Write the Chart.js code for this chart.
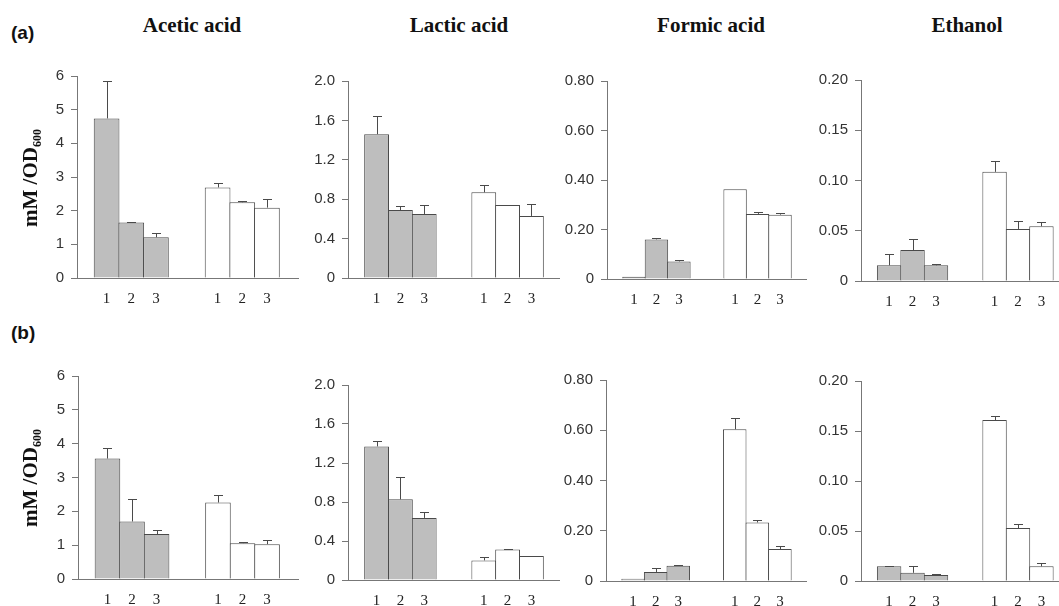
<!DOCTYPE html>
<html><head><meta charset="utf-8">
<script src="https://cdn.jsdelivr.net/npm/chart.js@4.4.1/dist/chart.umd.min.js"></script>
<style>
html,body{margin:0;padding:0;background:#fff;}
body{width:1059px;height:606px;position:relative;overflow:hidden;}
canvas{position:absolute;}
.title{position:absolute;font:bold 21px "Liberation Serif",serif;color:#111;transform:translate(-50%,-50%);white-space:nowrap;}
.panel{position:absolute;font:bold 19px "Liberation Sans",sans-serif;color:#111;transform:translateY(-50%);}
.ylab{position:absolute;font:bold 21px "Liberation Serif",serif;color:#111;white-space:nowrap;transform:translate(-50%,-50%) rotate(-90deg);}
.ylab sub{font-size:12px;vertical-align:-4px;}
</style></head><body>
<script>
// ---- data ----
const barLabels = ['1','2','3','1','2','3'];
const titles = ['Acetic acid','Lactic acid','Formic acid','Ethanol'];
const panelLabels = ['(a)','(b)'];

const acetTicks = ['0','1','2','3','4','5','6'];
const lactTicks = ['0','0.4','0.8','1.2','1.6','2.0'];
const formTicks = ['0','0.20','0.40','0.60','0.80'];
const ethTicks  = ['0','0.05','0.10','0.15','0.20'];

// row (a)
const acetA    = [4.74, 1.65, 1.21, 2.69, 2.25, 2.09];
const acetAErr = [1.12, 0.02, 0.13, 0.12, 0.05, 0.25];
const lactA    = [1.46, 0.69, 0.65, 0.87, 0.74, 0.63];
const lactAErr = [0.18, 0.04, 0.09, 0.07, 0.00, 0.12];
const formA    = [0.009, 0.160, 0.071, 0.363, 0.263, 0.260];
const formAErr = [0.000, 0.004, 0.004, 0.000, 0.008, 0.006];
const ethA     = [0.0156, 0.0308, 0.0156, 0.1086, 0.0518, 0.0545];
const ethAErr  = [0.0113, 0.0110, 0.0013, 0.0106, 0.0075, 0.0038];
// row (b)
const acetB    = [3.56, 1.70, 1.33, 2.26, 1.06, 1.03];
const acetBErr = [0.32, 0.66, 0.13, 0.22, 0.04, 0.13];
const lactB    = [1.37, 0.827, 0.637, 0.201, 0.312, 0.245];
const lactBErr = [0.054, 0.225, 0.056, 0.037, 0.010, 0.005];
const formB    = [0.009, 0.036, 0.061, 0.604, 0.233, 0.127];
const formBErr = [0.000, 0.017, 0.004, 0.046, 0.009, 0.013];
const ethB     = [0.0147, 0.0082, 0.0059, 0.1610, 0.0529, 0.0147];
const ethBErr  = [0.0006, 0.0065, 0.0010, 0.0040, 0.0042, 0.0036];

// ---- layout ----
const GROUP_GAP = 1.5;          // extra slots between the two bar groups
const colLeft   = [[77,348,607,861],[78,348,606,861]];
const colRight  = [299,560,807,1059];
const rowTop    = [[72,77,77,76],[372,381,376,377]];
const rowBottom = [[278,278,279,281],[579,580,581,581]];
const xMaxCol   = [8.8,8.7,8.7,8.25];
const titleX    = [192,459,711,967];
const GREY = '#bebebe', EDGE = '#4a4a4a', AXIS = '#777';

const slots = barLabels.map((_, i) => i < 3 ? i + 1 : i + 1 + GROUP_GAP);

const errPlugin = {
  id: 'errbars',
  afterDatasetsDraw(chart) {
    const ctx = chart.ctx, ys = chart.scales.y;
    const errs = chart.options.plugins.errbars.errors;
    chart.getDatasetMeta(0).data.forEach((el, i) => {
      const e = errs[i];
      if (!e) return;
      const v = chart.data.datasets[0].data[i].y;
      const x = Math.round(el.x) + 0.5;
      const y0 = el.y;
      const y1 = Math.round(ys.getPixelForValue(v + e)) + 0.5;
      ctx.save();
      ctx.strokeStyle = EDGE; ctx.lineWidth = 1;
      ctx.beginPath();
      ctx.moveTo(x, y0); ctx.lineTo(x, y1);
      ctx.moveTo(x - 4.5, y1); ctx.lineTo(x + 4.5, y1);
      ctx.stroke();
      ctx.restore();
    });
  }
};

function makePanel(row, col, values, errors, tickLabels) {
  const axL = colLeft[row][col], axR = colRight[col];
  const axT = rowTop[row][col], axB = rowBottom[row][col];
  const YW = 50, XH = 32, PT = 12;
  const L = axL - YW, T = axT - PT;
  const W = axR - L, H = axB + XH - T;
  const c = document.createElement('canvas');
  c.width = W; c.height = H;
  c.style.left = L + 'px'; c.style.top = T + 'px';
  c.style.width = W + 'px'; c.style.height = H + 'px';
  document.body.appendChild(c);
  const tickVals = tickLabels.map(parseFloat);
  new Chart(c, {
    type: 'bar',
    data: {
      datasets: [{
        data: values.map((v, i) => ({x: slots[i], y: v})),
        backgroundColor: values.map((_, i) => i < 3 ? GREY : '#ffffff'),
        borderColor: EDGE,
        borderWidth: {top: 1, left: 1, right: 1, bottom: 0},
        borderSkipped: false,
        barPercentage: 1.042,   // 1px overlap so neighbouring edges merge into one line
        categoryPercentage: 1
      }]
    },
    options: {
      responsive: false, animation: false, devicePixelRatio: 1,
      layout: {padding: {top: PT, left: 0, right: 0, bottom: 0}},
      plugins: {legend: {display: false}, tooltip: {enabled: false}, errbars: {errors}},
      events: [],
      scales: {
        x: {
          type: 'linear', min: -0.2, max: xMaxCol[col], offset: false,
          afterBuildTicks: ax => { ax.ticks = slots.map(v => ({value: v})); },
          afterFit: s => { s.height = XH; },
          ticks: {autoSkip: false, maxRotation: 0, padding: 12,
                  callback: (v, i) => barLabels[i],
                  font: {family: 'Liberation Serif', size: 15}, color: '#222'},
          grid: {display: false, drawTicks: false, offset: false},
          border: {display: true, color: AXIS, width: 1}
        },
        y: {
          min: 0, max: tickVals[tickVals.length - 1],
          afterBuildTicks: ax => { ax.ticks = tickVals.map(v => ({value: v})); },
          afterFit: s => { s.width = YW; },
          ticks: {autoSkip: false, padding: 7,
                  callback: (v, i) => tickLabels[i],
                  font: {family: 'Liberation Sans', size: 15}, color: '#333'},
          grid: {display: true, drawOnChartArea: false, drawTicks: true, tickLength: 6, color: AXIS},
          border: {display: true, color: AXIS, width: 1}
        }
      }
    },
    plugins: [errPlugin]
  });
}

makePanel(0, 0, acetA, acetAErr, acetTicks);
makePanel(0, 1, lactA, lactAErr, lactTicks);
makePanel(0, 2, formA, formAErr, formTicks);
makePanel(0, 3, ethA,  ethAErr,  ethTicks);
makePanel(1, 0, acetB, acetBErr, acetTicks);
makePanel(1, 1, lactB, lactBErr, lactTicks);
makePanel(1, 2, formB, formBErr, formTicks);
makePanel(1, 3, ethB,  ethBErr,  ethTicks);

// text
titles.forEach((t, i) => {
  const d = document.createElement('div');
  d.className = 'title'; d.textContent = t;
  d.style.left = titleX[i] + 'px'; d.style.top = '25px';
  document.body.appendChild(d);
});
[33, 333].forEach((y, r) => {
  const d = document.createElement('div');
  d.className = 'panel'; d.textContent = panelLabels[r];
  d.style.left = '11px'; d.style.top = y + 'px';
  document.body.appendChild(d);
});
[178, 478].forEach(y => {
  const d = document.createElement('div');
  d.className = 'ylab';
  d.innerHTML = 'mM /OD<sub>600</sub>';
  d.style.left = '31px'; d.style.top = y + 'px';
  document.body.appendChild(d);
});
</script>
</body></html>
